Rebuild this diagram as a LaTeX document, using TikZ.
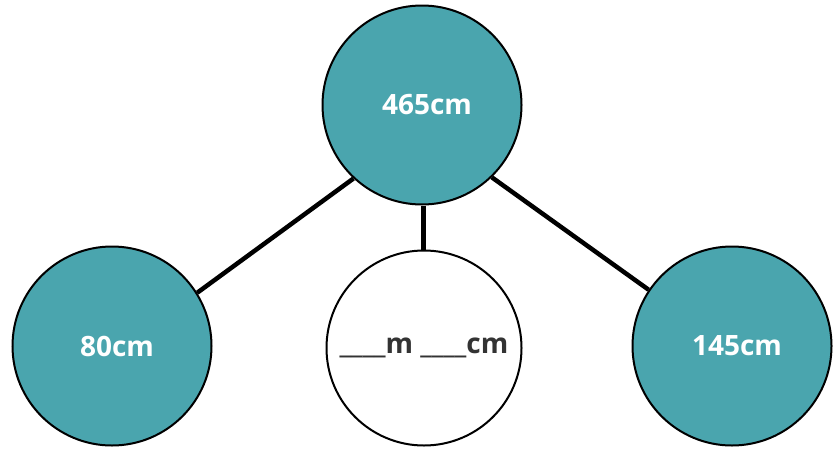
\documentclass[tikz,border=0pt]{standalone}
\usepackage{fontspec}
\setmainfont{Open Sans}
\definecolor{teal1}{HTML}{4AA5AE}
\definecolor{txtgray}{HTML}{333333}
\newcommand{\shiftr}{\hspace*{10pt}}
\begin{document}
\begin{tikzpicture}[x=1pt,y=-1pt,
  bubble/.style={circle,draw=black,line width=2pt,minimum size=199pt,inner sep=0pt,
    fill=teal1,text=white,font=\fontsize{28}{30}\selectfont\bfseries},
  blank/.style={bubble,fill=white,text=txtgray,minimum size=195pt},
  link/.style={line width=4.5pt,black}]
\useasboundingbox (0,0) rectangle (834,450);
\node[bubble] (top) at (422,105) {\shiftr 465cm};
\node[bubble] (left) at (112,346) {\shiftr 80cm};
\node[blank] (mid) at (424,348) {\_\_\_\_m \_\_\_\_cm};
\node[bubble] (right) at (732,346) {\shiftr 145cm};
\draw[link] (top.227) -- (left.32);
\draw[link] (top.314) -- (right.146);
\draw[link] ([xshift=1.5pt]top.south) -- ([xshift=-0.5pt]mid.north);
\end{tikzpicture}
\end{document}
